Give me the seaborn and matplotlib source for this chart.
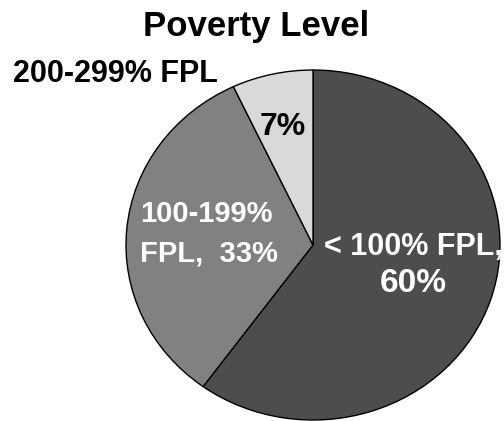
import matplotlib
matplotlib.use("Agg")
import matplotlib.pyplot as plt
import seaborn as sns

sns.set_style("white")
plt.rcParams["font.family"] = ["Liberation Sans", "DejaVu Sans"]

# data
categories = ["< 100% FPL", "100-199% FPL", "200-299% FPL"]
shares = [60, 33, 7]
slice_colors = ["#4d4d4d", "#818181", "#d9d9d9"]
slice_labels = ["< 100% FPL,\n60%", "100-199%\nFPL,  33%", "7%"]
title = "Poverty Level"

W, H = 504, 421
fig = plt.figure(figsize=(W / 100, H / 100), dpi=100)

# pie is slightly wider than tall in the reference
cx, cy, rx, ry = 313, 245, 187, 175
ax = fig.add_axes([(cx - rx) / W, (H - cy - ry) / H, 2 * rx / W, 2 * ry / H])
ax.pie(shares, colors=slice_colors, startangle=90, counterclock=False,
       wedgeprops=dict(edgecolor="black", linewidth=1))
ax.set_aspect("auto")
ax.set_xlim(-1, 1)
ax.set_ylim(-1, 1)
ax.axis("off")

# in-slice labels, one text per line (data coords of the unit pie)
big_1, big_2 = slice_labels[0].split("\n")
ax.text(0.535, -0.057, big_1, color="white", fontsize=22, fontweight="bold",
        ha="center", va="baseline", clip_on=False)
ax.text(0.535, -0.269, big_2, color="white", fontsize=24, fontweight="bold",
        ha="center", va="baseline")

mid_1, mid_2 = slice_labels[1].split("\n")
ax.text(-0.925, 0.131, mid_1, color="white", fontsize=21, fontweight="bold",
        ha="left", va="baseline")
ax.text(-0.925, -0.097, mid_2, color="white", fontsize=21, fontweight="bold",
        ha="left", va="baseline")

ax.text(-0.16, 0.629, slice_labels[2], color="black", fontsize=23,
        fontweight="bold", ha="center", va="baseline")

# outside label for the small slice
fig.text(13 / W, 1 - 82 / H, categories[2], color="black", fontsize=22,
         fontweight="bold", ha="left", va="baseline")

fig.text(256 / W, 1 - 36 / H, title, color="black", fontsize=25,
         fontweight="bold", ha="center", va="baseline")

fig.savefig("out.png", dpi=100)
